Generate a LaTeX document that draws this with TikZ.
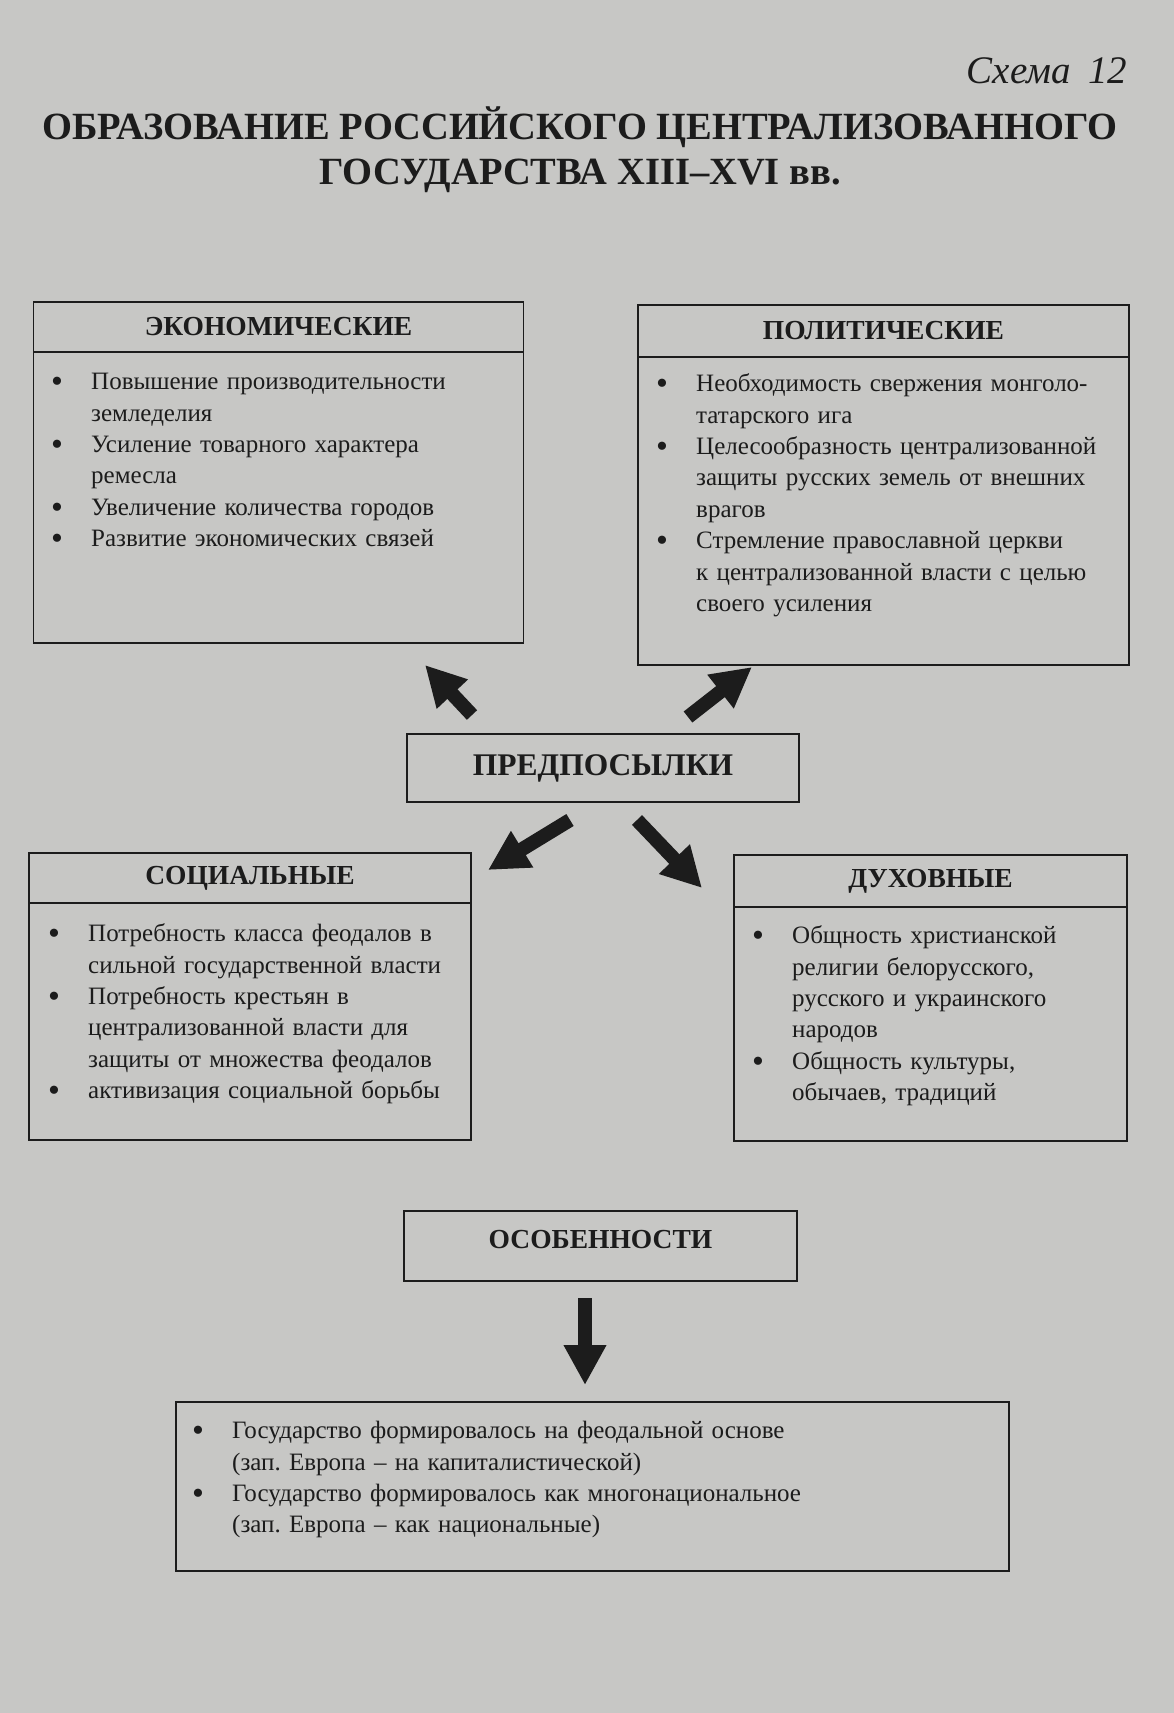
\documentclass[tikz,border=0pt]{standalone}
\usepackage{fontspec}
\setmainfont{Liberation Serif}
\usetikzlibrary{arrows.meta}
\definecolor{paper}{RGB}{199,199,197}
\definecolor{ink}{RGB}{28,28,28}
% bullet line with hanging indent
\newcommand\itm{\par\hangindent=40pt\hangafter=1\noindent
  \makebox[40pt][l]{\raisebox{-3pt}{\fontsize{34}{0}\selectfont\textbullet}}\strut}
\frenchspacing
\begin{document}
\begin{tikzpicture}[
  x=1pt, y=-1pt,
  frame/.style={draw=ink, line width=1.8pt, inner sep=0pt, outer sep=0pt},
  head/.style={frame, text=ink, font=\fontsize{27.5}{32}\selectfont\bfseries},
  listtext/.style={anchor=north west, inner sep=0pt, text=ink,
    font=\fontsize{25}{31.4}\selectfont},
  bigarrow/.style={draw=ink, line width=14pt, -{Triangle[length=40pt, width=40pt]}}
]
\fill[paper] (0,0) rectangle (1174,1713);
\node[anchor=east, text=ink, font=\fontsize{39}{45}\selectfont\itshape] (scheme) at (1131,71) {Схема\hspace{0.45em}12};
\node[align=center, text=ink, font=\fontsize{38.5}{45}\selectfont\bfseries] (title) at (580,150)
  {ОБРАЗОВАНИЕ РОССИЙСКОГО ЦЕНТРАЛИЗОВАННОГО\\ГОСУДАРСТВА XIII--XVI вв.};

% economic
\node[head, minimum width=490, minimum height=50] (econ) at (278.5,327) {ЭКОНОМИЧЕСКИЕ};
\node[frame, anchor=north, minimum width=490, minimum height=291] (econbody) at (econ.south) {};
\node[listtext, text width=460] (econlist) at (51,358) {%
  \itm Повышение производительности\newline земледелия
  \itm Усиление товарного характера\newline ремесла
  \itm Увеличение количества городов
  \itm Развитие экономических связей\par};

% political
\node[head, minimum width=491, minimum height=52] (polit) at (883.5,331) {ПОЛИТИЧЕСКИЕ};
\node[frame, anchor=north, minimum width=491, minimum height=308] (politbody) at (polit.south) {};
\node[listtext, text width=465] (politlist) at (656,360) {%
  \itm Необходимость свержения монголо-\newline татарского ига
  \itm Целесообразность централизованной\newline защиты русских земель от внешних\newline врагов
  \itm Стремление православной церкви\newline к централизованной власти с целью\newline своего усиления\par};

% premises
\node[frame, minimum width=392, minimum height=68, text=ink,
  font=\fontsize{31.5}{36}\selectfont\bfseries] (prem) at (603,768) {ПРЕДПОСЫЛКИ};

% social
\node[head, minimum width=442, minimum height=50] (soc) at (250,878) {СОЦИАЛЬНЫЕ};
\node[frame, anchor=north, minimum width=442, minimum height=237] (socbody) at (soc.south) {};
\node[listtext, text width=415] (soclist) at (48,910) {%
  \itm Потребность класса феодалов в\newline сильной государственной власти
  \itm Потребность крестьян в\newline централизованной власти для\newline защиты от множества феодалов
  \itm активизация социальной борьбы\par};

% spiritual
\node[head, minimum width=393, minimum height=52] (spir) at (930.5,881) {ДУХОВНЫЕ};
\node[frame, anchor=north, minimum width=393, minimum height=234] (spirbody) at (spir.south) {};
\node[listtext, text width=370] (spirlist) at (752,912) {%
  \itm Общность христианской\newline религии белорусского,\newline русского и украинского\newline народов
  \itm Общность культуры,\newline обычаев, традиций\par};

% features
\node[frame, minimum width=393, minimum height=70, text depth=14pt, text=ink,
  font=\fontsize{27.5}{32}\selectfont\bfseries] (feat) at (600.5,1246) {ОСОБЕННОСТИ};
\node[frame, minimum width=833, minimum height=169] (featbody) at (592.5,1486.5) {};
\node[listtext, text width=800] (featlist) at (192,1407) {%
  \itm Государство формировалось на феодальной основе\newline (зап. Европа -- на капиталистической)
  \itm Государство формировалось как многонациональное\newline (зап. Европа -- как национальные)\par};

% arrows
\coordinate (ul1) at (472,715); \coordinate (ul2) at (425,665);
\coordinate (ur1) at (688,717); \coordinate (ur2) at (752,667);
\coordinate (dl1) at (570,820); \coordinate (dl2) at (488,870);
\coordinate (dr1) at (637,820); \coordinate (dr2) at (702,888);
\coordinate (dn1) at (585,1298); \coordinate (dn2) at (585,1385);
\draw[bigarrow] (ul1) -- (ul2);
\draw[bigarrow] (ur1) -- (ur2);
\draw[bigarrow] (dl1) -- (dl2);
\draw[bigarrow] (dr1) -- (dr2);
\draw[bigarrow] (dn1) -- (dn2);
\end{tikzpicture}
\end{document}
